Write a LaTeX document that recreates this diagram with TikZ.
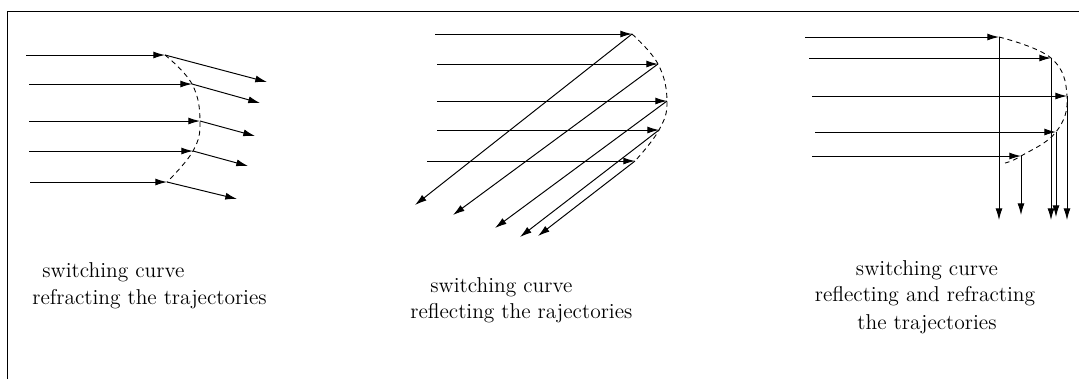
\documentclass[tikz,border=0pt]{standalone}
\usetikzlibrary{arrows.meta}
\begin{document}
\begin{tikzpicture}[
  x=0.018cm, y=-0.018cm,
  traj/.style={-{Latex[length=6pt,width=3.6pt]}, line width=0.5pt},
  switchcurve/.style={dash pattern=on 2.5pt off 2pt, line width=0.45pt},
  caption/.style={font=\fontsize{11}{13.6}\selectfont, anchor=base west, inner sep=0pt},
]
\useasboundingbox (0,0) rectangle (1079,379);
\draw[line width=0.5pt] (7,379) -- (7,11) -- (1079,11);

% refracting curve
\coordinate (rs1) at (26,55);  \coordinate (rh1) at (165,55);  \coordinate (re1) at (267,82);
\coordinate (rs2) at (29,84);  \coordinate (rh2) at (192,84);  \coordinate (re2) at (260,103);
\coordinate (rs3) at (29,121); \coordinate (rh3) at (200,121); \coordinate (re3) at (255,136);
\coordinate (rs4) at (29,151); \coordinate (rh4) at (193,151); \coordinate (re4) at (248,166);
\coordinate (rs5) at (30,182); \coordinate (rh5) at (167,182); \coordinate (re5) at (237,199);
\draw[switchcurve] plot[smooth, tension=0.7] coordinates {(rh1) (rh2) (rh3) (rh4) (rh5)};
\foreach \i in {1,...,5} {
  \draw[traj] (rs\i) -- (rh\i);
  \draw[traj] (rh\i) -- (re\i);
}
\node[caption] (rcap1) at (42,277) {switching curve};
\node[caption] (rcap2) at (32,304) {refracting the trajectories};

% reflecting curve
\coordinate (ls1) at (435,34);  \coordinate (lh1) at (632,34);  \coordinate (le1) at (415,205);
\coordinate (ls2) at (437,64);  \coordinate (lh2) at (658,64);  \coordinate (le2) at (453,215);
\coordinate (ls3) at (437,101); \coordinate (lh3) at (667,101); \coordinate (le3) at (495,228);
\coordinate (ls4) at (437,130); \coordinate (lh4) at (659,130); \coordinate (le4) at (520,237);
\coordinate (ls5) at (427,161); \coordinate (lh5) at (635,161); \coordinate (le5) at (538,236);
\draw[switchcurve] plot[smooth, tension=0.7] coordinates {(lh1) (lh2) (lh3) (lh4) (lh5)};
\foreach \i in {1,...,5} {
  \draw[traj] (ls\i) -- (lh\i);
  \draw[traj] (lh\i) -- (le\i);
}
\node[caption] (lcap1) at (430,292) {switching curve};
\node[caption] (lcap2) at (410,318) {reflecting the rajectories};

% reflecting and refracting curve
\coordinate (bs1) at (805,37);  \coordinate (bh1) at (999,37);  \coordinate (be1) at (999,220);
\coordinate (bs2) at (809,58);  \coordinate (bh2) at (1051,58); \coordinate (be2) at (1051,220);
\coordinate (bs3) at (812,96);  \coordinate (bh3) at (1067,96); \coordinate (be3) at (1067,220);
\coordinate (bs4) at (815,132); \coordinate (bh4) at (1056,132); \coordinate (be4) at (1056,217);
\coordinate (bs5) at (812,156); \coordinate (bh5) at (1021,156); \coordinate (be5) at (1021,215);
\coordinate (bend) at (1005,163);
\draw[switchcurve] plot[smooth, tension=0.7] coordinates {(bh1) (bh2) (bh3) (bh4) (bh5) (bend)};
\foreach \i in {1,...,5} {
  \draw[traj] (bs\i) -- (bh\i);
  \draw[traj] (bh\i) -- (be\i);
}
\node[caption, anchor=base] (bcap1) at (927,275) {switching curve};
\node[caption, anchor=base] (bcap2) at (925,301) {reflecting and refracting};
\node[caption, anchor=base] (bcap3) at (927,329) {the trajectories};
\end{tikzpicture}
\end{document}
